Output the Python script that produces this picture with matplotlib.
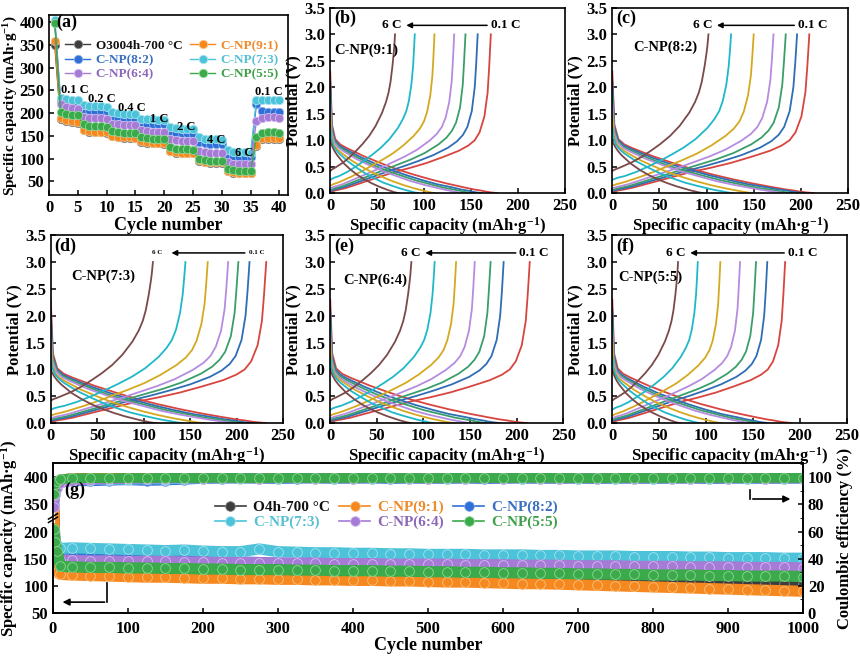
import numpy as np
import matplotlib
matplotlib.use('Agg')
import matplotlib.pyplot as plt
from matplotlib.lines import Line2D
from matplotlib.ticker import MultipleLocator, FormatStrFormatter

plt.rcParams['font.family'] = ['Liberation Serif', 'DejaVu Serif']
plt.rcParams['font.weight'] = 'bold'
plt.rcParams['axes.labelweight'] = 'bold'
plt.rcParams['mathtext.fontset'] = 'custom'
plt.rcParams['mathtext.rm'] = 'Liberation Serif:bold'
plt.rcParams['mathtext.it'] = 'Liberation Serif:bold:italic'
plt.rcParams['mathtext.bf'] = 'Liberation Serif:bold'
plt.rcParams['xtick.direction'] = 'in'
plt.rcParams['ytick.direction'] = 'in'
plt.rcParams['axes.linewidth'] = 1.2
plt.rcParams['xtick.major.width'] = 1.1
plt.rcParams['ytick.major.width'] = 1.1
plt.rcParams['xtick.labelsize'] = 12
plt.rcParams['ytick.labelsize'] = 12

CAP_LABEL = 'Specific capacity (mAh·g$^{-1}$)'

# ---------------- (a) rate capability ----------------
cycles_a = list(range(1, 41))
rate_o3004 = [350, 188, 182, 180, 179, 162, 159, 158, 158, 157, 149, 147, 146, 146, 145,
              137, 135, 134, 134, 133, 116, 113, 112, 112, 112, 95, 92, 91, 91, 91,
              72, 69, 68, 68, 68, 128, 143, 144, 144, 144]
rate_91 = [358, 190, 184, 182, 181, 163, 160, 159, 159, 158, 150, 148, 147, 147, 146,
           138, 136, 135, 135, 135, 117, 114, 113, 113, 113, 96, 93, 92, 92, 92,
           73, 70, 69, 69, 69, 130, 145, 146, 146, 146]
rate_82 = [400, 225, 220, 218, 217, 208, 206, 205, 205, 204, 192, 190, 189, 189, 188,
           178, 176, 175, 175, 175, 160, 157, 156, 156, 155, 137, 134, 133, 133, 132,
           108, 105, 104, 104, 103, 220, 205, 203, 202, 202]
rate_73 = [405, 233, 230, 229, 228, 218, 216, 215, 215, 214, 202, 200, 199, 199, 198,
           188, 186, 186, 185, 185, 170, 167, 166, 166, 165, 147, 144, 143, 143, 142,
           118, 115, 114, 114, 113, 228, 229, 229, 228, 228]
rate_64 = [398, 220, 213, 211, 210, 192, 190, 189, 189, 188, 177, 175, 174, 174, 173,
           162, 160, 159, 159, 158, 143, 140, 139, 139, 138, 117, 114, 113, 113, 112,
           92, 89, 88, 88, 88, 183, 190, 191, 191, 190]
rate_55 = [398, 203, 198, 196, 195, 175, 172, 171, 171, 170, 160, 158, 157, 157, 156,
           147, 145, 144, 144, 143, 125, 122, 121, 121, 120, 100, 96, 95, 95, 95,
           78, 75, 74, 74, 74, 147, 157, 158, 158, 157]
rate_text = ['0.1 C', '0.2 C', '0.4 C', '1 C', '2 C', '4 C', '6 C', '0.1 C']
rate_text_x = [2.0, 6.7, 12.0, 17.6, 22.2, 27.4, 32.2, 35.8]
rate_text_y = [251, 231, 212, 186, 169, 142, 112, 246]

# ---------------- (b)-(f) charge/discharge ----------------
rate_names = ['0.1 C', '0.2 C', '0.4 C', '1 C', '2 C', '4 C', '6 C']
rate_colors = ['#d8453f', '#2f6db5', '#3a9e6a', '#b58ce0', '#d4a920', '#1fb8c8', '#7a4a4a']
frac = [0, 0.01, 0.03, 0.06, 0.1, 0.2, 0.3, 0.4, 0.5, 0.6, 0.7, 0.8, 0.86, 0.9, 0.93,
        0.96, 0.98, 0.99, 1.0]
chg_v = [
    [0.02, 0.03, 0.05, 0.07, 0.10, 0.20, 0.30, 0.40, 0.48, 0.57, 0.68, 0.80, 0.90, 1.00, 1.15, 1.45, 1.90, 2.40, 3.00],
    [0.04, 0.05, 0.07, 0.09, 0.12, 0.22, 0.32, 0.42, 0.51, 0.61, 0.72, 0.86, 0.98, 1.10, 1.25, 1.55, 2.00, 2.45, 3.00],
    [0.06, 0.07, 0.09, 0.11, 0.14, 0.24, 0.34, 0.44, 0.54, 0.64, 0.76, 0.92, 1.05, 1.18, 1.33, 1.62, 2.05, 2.50, 3.00],
    [0.09, 0.10, 0.12, 0.14, 0.17, 0.27, 0.37, 0.47, 0.58, 0.69, 0.82, 0.99, 1.12, 1.25, 1.42, 1.72, 2.12, 2.52, 3.00],
    [0.14, 0.15, 0.17, 0.19, 0.22, 0.31, 0.41, 0.52, 0.63, 0.75, 0.90, 1.08, 1.22, 1.36, 1.54, 1.85, 2.22, 2.58, 3.00],
    [0.25, 0.26, 0.28, 0.30, 0.32, 0.40, 0.50, 0.61, 0.73, 0.86, 1.02, 1.23, 1.40, 1.55, 1.74, 2.05, 2.40, 2.68, 3.00],
    [0.42, 0.43, 0.45, 0.47, 0.50, 0.58, 0.68, 0.80, 0.93, 1.08, 1.27, 1.52, 1.72, 1.90, 2.10, 2.40, 2.65, 2.80, 3.00],
]
dis_v = [
    [2.30, 1.30, 1.02, 0.92, 0.85, 0.70, 0.57, 0.45, 0.35, 0.26, 0.18, 0.11, 0.07, 0.05, 0.03, 0.015, 0.008, 0.004, 0],
    [2.10, 1.25, 1.00, 0.90, 0.83, 0.68, 0.55, 0.44, 0.34, 0.25, 0.17, 0.11, 0.07, 0.05, 0.03, 0.015, 0.008, 0.004, 0],
    [1.90, 1.20, 0.98, 0.88, 0.81, 0.66, 0.53, 0.42, 0.33, 0.24, 0.17, 0.10, 0.07, 0.05, 0.03, 0.015, 0.008, 0.004, 0],
    [1.70, 1.15, 0.96, 0.86, 0.79, 0.64, 0.52, 0.41, 0.32, 0.23, 0.16, 0.10, 0.065, 0.045, 0.03, 0.015, 0.008, 0.004, 0],
    [1.50, 1.10, 0.93, 0.84, 0.77, 0.62, 0.50, 0.39, 0.30, 0.22, 0.15, 0.09, 0.06, 0.04, 0.025, 0.012, 0.006, 0.003, 0],
    [1.25, 1.05, 0.92, 0.83, 0.75, 0.60, 0.48, 0.37, 0.28, 0.20, 0.14, 0.085, 0.055, 0.04, 0.025, 0.012, 0.006, 0.003, 0],
    [1.00, 0.95, 0.88, 0.80, 0.72, 0.56, 0.44, 0.34, 0.26, 0.19, 0.13, 0.08, 0.05, 0.035, 0.02, 0.01, 0.005, 0.002, 0],
]
# end capacities (mAh/g) per rate, 0.1 C -> 6 C
chg_b = [171, 157, 144, 132, 111, 90, 69]
dis_b = [178, 162, 152, 142, 112, 94, 73]
chg_c = [209, 196, 184, 171, 150, 126, 102]
dis_c = [214, 205, 193, 183, 150, 128, 97]
chg_d = [232, 214, 202, 191, 169, 145, 110]
dis_d = [232, 218, 208, 198, 165, 142, 113]
chg_e = [214, 186, 172, 155, 135, 112, 87]
dis_e = [211, 182, 168, 150, 133, 111, 87]
chg_f = [184, 165, 153, 136, 115, 91, 70]
dis_f = [191, 166, 157, 147, 116, 93, 72]

# ---------------- (g) long cycling ----------------
cycles_g = [1, 3, 5, 10, 25, 50, 75, 100, 125, 150, 175, 200, 225, 250, 275, 300, 325, 350,
            375, 400, 425, 450, 475, 500, 525, 550, 575, 600, 625, 650, 675, 700, 725, 750,
            775, 800, 825, 850, 875, 900, 925, 950, 975, 1000]
cap_o4h = [345, 160, 135, 127,
           127, 126, 125, 124, 124, 123, 122, 122, 121, 120,
           119, 119, 118, 117, 117, 116, 116, 115, 114, 114,
           113, 113, 112, 112, 111, 111, 110, 110, 109, 108,
           108, 107, 107, 106, 105, 105, 104, 104, 103, 103]
cap_91 = [350, 140, 125, 121,
          120, 119, 118, 117, 116, 116, 115, 114, 114, 113,
          113, 112, 112, 111, 111, 110, 110, 109, 109, 108,
          107, 107, 106, 105, 104, 104, 103, 102, 101, 100,
          99, 98, 97, 96, 95, 94, 93, 92, 91, 90]
cap_82 = [175, 165, 158, 156,
          155, 154, 153, 152, 151, 150, 148, 145, 144, 144,
          143, 142, 141, 141, 140, 140, 140, 139, 139, 139,
          139, 138, 138, 138, 137, 137, 137, 136, 136, 136,
          135, 135, 135, 134, 134, 134, 133, 133, 133, 132]
cap_73 = [200, 185, 172, 169,
          170, 169, 168, 167, 166, 165, 166, 164, 163, 163,
          168, 163, 162, 161, 161, 160, 160, 159, 159, 158,
          158, 158, 157, 157, 157, 156, 156, 155, 155, 155,
          154, 154, 154, 153, 153, 152, 152, 152, 151, 151]
cap_64 = [195, 170, 152, 148,
          147, 146, 146, 145, 145, 145, 144, 144, 143, 143,
          143, 142, 142, 142, 141, 141, 141, 140, 140, 140,
          140, 139, 139, 139, 138, 138, 138, 137, 137, 137,
          136, 136, 136, 135, 135, 135, 134, 134, 134, 133]
cap_55 = [212, 180, 165, 136,
          135, 134, 134, 133, 133, 132, 132, 131, 131, 130,
          130, 130, 129, 129, 128, 128, 128, 127, 127, 126,
          126, 125, 125, 124, 124, 123, 123, 122, 122, 121,
          121, 120, 120, 120, 119, 119, 118, 118, 118, 117]
ce_o4h = [84, 93, 96, 98.4,
          99.3, 99.5, 99.4, 99.6, 99.5, 99.4, 99.5, 99.6, 99.4, 99.5,
          99.5, 99.4, 99.6, 99.5, 99.3, 99.5, 99.6, 99.4, 99.5, 99.5,
          99.6, 99.4, 99.5, 99.3, 99.5, 99.6, 99.5, 99.4, 99.5, 99.6,
          99.5, 99.4, 99.3, 99.5, 99.6, 99.5, 99.4, 99.5, 99.6, 99.5]
ce_91 = [85, 93, 96, 98.5,
         99.4, 99.5, 99.6, 99.4, 99.5, 99.5, 99.3, 99.5, 99.6, 99.4,
         99.5, 99.6, 99.5, 99.4, 99.5, 99.3, 99.5, 99.6, 99.5, 99.4,
         99.5, 99.6, 99.4, 99.5, 99.5, 99.3, 99.6, 99.5, 99.4, 99.5,
         99.6, 99.5, 99.4, 99.5, 99.3, 99.5, 99.6, 99.4, 99.5, 99.5]
ce_82 = [80, 88, 93, 96,
         97.2, 97.0, 97.5, 97.8, 97.3, 97.6, 98.2, 98.8, 99.0, 99.2,
         99.1, 98.6, 99.0, 99.2, 98.8, 99.0, 99.1, 98.7, 99.0, 98.9,
         98.8, 99.0, 98.6, 98.9, 99.1, 98.8, 98.9, 99.0, 98.7, 98.9,
         99.0, 98.8, 98.9, 99.1, 98.6, 98.9, 99.0, 98.8, 98.9, 99.0]
ce_73 = [82, 90, 94, 97,
         97.5, 97.8, 98.2, 98.0, 98.5, 98.3, 98.8, 99.0, 99.3, 99.0,
         99.2, 99.0, 99.3, 99.1, 99.0, 99.2, 99.1, 99.3, 99.0, 99.2,
         99.1, 99.0, 99.2, 99.3, 99.1, 99.0, 99.2, 99.1, 99.3, 99.0,
         99.2, 99.1, 99.0, 99.2, 99.1, 99.3, 99.0, 99.2, 99.1, 99.2]
ce_64 = [78, 87, 92, 95.5,
         97.5, 98.0, 98.6, 98.8, 99.0, 99.1, 99.2, 99.1, 99.3, 99.2,
         99.0, 99.2, 99.3, 99.1, 99.2, 99.0, 99.2, 99.3, 99.1, 99.0,
         99.2, 99.1, 99.3, 99.0, 99.2, 99.1, 99.0, 99.2, 99.1, 99.3,
         99.0, 99.2, 99.1, 99.0, 99.2, 99.1, 99.3, 99.0, 99.2, 99.1]
ce_55 = [88, 95, 97, 98.5,
         99.2, 99.4, 99.3, 99.5, 99.4, 99.6, 99.5, 99.4, 99.6, 99.5,
         99.3, 99.5, 99.6, 99.4, 99.5, 99.5, 99.6, 99.4, 99.5, 99.3,
         99.5, 99.6, 99.5, 99.4, 99.5, 99.6, 99.5, 99.4, 99.3, 99.5,
         99.6, 99.5, 99.4, 99.5, 99.6, 99.5, 99.4, 99.5, 99.6, 99.5]

# series styles: (face, edge, legend text colour)
C_BLK = ('#3d3d3d', '#8a8a8a', '#111111')
C_ORG = ('#f5891f', '#fbc27e', '#ee8a2a')
C_BLU = ('#2f6fd6', '#86aef0', '#3a6fc0')
C_CYN = ('#4cc3d9', '#a4e3ee', '#57c0d4')
C_PUR = ('#a57bd6', '#d4bdf0', '#8a67b8')
C_GRN = ('#3aaa4a', '#92d69a', '#3f9f4a')

fig = plt.figure(figsize=(8.6, 6.57), dpi=100)

# ---- (a)
ax = fig.add_axes([0.057, 0.703, 0.278, 0.274])
series_a = [('O3004h-700 °C', rate_o3004, C_BLK), ('C-NP(9:1)', rate_91, C_ORG),
            ('C-NP(8:2)', rate_82, C_BLU), ('C-NP(7:3)', rate_73, C_CYN),
            ('C-NP(6:4)', rate_64, C_PUR), ('C-NP(5:5)', rate_55, C_GRN)]
handles = {}
for name, vals, st in series_a:
    h, = ax.plot(cycles_a, vals, '-o', color=st[0], mec=st[1], mew=0.6, ms=6, lw=1.0, label=name)
    handles[name] = (h, st[2])
order = ['O3004h-700 °C', 'C-NP(8:2)', 'C-NP(6:4)', 'C-NP(9:1)', 'C-NP(7:3)', 'C-NP(5:5)']
leg = ax.legend([handles[n][0] for n in order], order, ncol=2, frameon=False, loc='center',
                bbox_to_anchor=(0.515, 0.75), fontsize=9.5, handlelength=1.9, handletextpad=0.4,
                columnspacing=0.6, labelspacing=0.15, borderpad=0.1)
for t, n in zip(leg.get_texts(), order):
    t.set_color(handles[n][1])
for s, x, y in zip(rate_text, rate_text_x, rate_text_y):
    ax.text(x, y, s, fontsize=9, ha='left', va='center')
ax.text(1.3, 400, '(a)', fontsize=13, va='center')
ax.set_xlim(0, 41.5)
ax.set_ylim(20, 415)
ax.set_xticks(range(0, 41, 5))
ax.set_yticks(range(50, 401, 50))
ax.set_xlabel('Cycle number', fontsize=13, labelpad=1)
ax.set_ylabel(CAP_LABEL, fontsize=11)
ax.yaxis.set_label_coords(-0.12, 0.5)


def gcd(rect, chg, dis, tag, sample, sample_xy, six_x, arrow_x0, arrow_x1, small=False):
    a = fig.add_axes(rect)
    for i in range(7):
        a.plot(np.array(frac) * dis[i], dis_v[i], color=rate_colors[i], lw=1.3)
        a.plot(np.array(frac) * chg[i], chg_v[i], color=rate_colors[i], lw=1.3)
    a.set_xlim(0, 250)
    a.set_ylim(0, 3.5)
    a.set_xticks(range(0, 251, 50))
    a.set_yticks(np.arange(0, 3.51, 0.5))
    a.yaxis.set_major_formatter(FormatStrFormatter('%.1f'))
    a.set_xlabel(CAP_LABEL, fontsize=12, labelpad=1)
    a.set_ylabel('Potential (V)', fontsize=12, labelpad=2)
    a.text(4, 3.3, tag, fontsize=13, va='center')
    a.text(sample_xy[0], sample_xy[1], sample, fontsize=10.5, va='center')
    fs = 5 if small else 9.5
    a.text(six_x, 3.17, '6 C', fontsize=fs, ha='right', va='center')
    a.text(arrow_x0 + 1, 3.17, '0.1 C', fontsize=fs, ha='left', va='center')
    a.annotate('', xy=(arrow_x1, 3.17), xytext=(arrow_x0, 3.17),
               arrowprops=dict(arrowstyle='-|>', color='k', lw=1.1, mutation_scale=8))
    return a


gcd([0.384, 0.706, 0.273, 0.282], chg_b, dis_b, '(b)', 'C-NP(9:1)', (4, 2.7), 76, 170, 78)
gcd([0.712, 0.706, 0.274, 0.282], chg_c, dis_c, '(c)', 'C-NP(8:2)', (22, 2.75), 106, 196, 108)
gcd([0.059, 0.356, 0.270, 0.286], chg_d, dis_d, '(d)', 'C-NP(7:3)', (22, 2.74), 120, 212, 127, small=True)
gcd([0.384, 0.356, 0.271, 0.286], chg_e, dis_e, '(e)', 'C-NP(6:4)', (14, 2.66), 97, 202, 99)
gcd([0.712, 0.356, 0.273, 0.286], chg_f, dis_f, '(f)', 'C-NP(5:5)', (6, 2.72), 78, 186, 80)

# ---- (g) broken left axis through a function scale
def fwd(v):
    v = np.asarray(v, dtype=float)
    return np.where(v <= 200, v, np.where(v >= 350, v - 100, 200 + (v - 200) / 3))


def inv(t):
    t = np.asarray(t, dtype=float)
    return np.where(t <= 200, t, np.where(t >= 250, t + 100, 200 + (t - 200) * 3))


axg = fig.add_axes([0.0616, 0.067, 0.872, 0.228])
axg.set_yscale('function', functions=(fwd, inv))
axr = axg.twinx()
series_g = [('O4h-700 °C', cap_o4h, ce_o4h, C_BLK), ('C-NP(9:1)', cap_91, ce_91, C_ORG),
            ('C-NP(8:2)', cap_82, ce_82, C_BLU), ('C-NP(7:3)', cap_73, ce_73, C_CYN),
            ('C-NP(6:4)', cap_64, ce_64, C_PUR), ('C-NP(5:5)', cap_55, ce_55, C_GRN)]
hg = {}
for name, cap, ce, st in series_g:
    axg.plot(cycles_g, cap, '-o', color=st[0], mec=st[1], mew=0.6, ms=7, lw=8,
             solid_capstyle='round')
    axr.plot(cycles_g, ce, '-o', color=st[0], mec=st[1], mew=0.6, ms=7, lw=7,
             solid_capstyle='round')
    hg[name] = (Line2D([], [], color=st[0], marker='o', mec=st[1], mew=0.6, ms=7, lw=1.2), st[2])
order_g = ['O4h-700 °C', 'C-NP(7:3)', 'C-NP(9:1)', 'C-NP(6:4)', 'C-NP(8:2)', 'C-NP(5:5)']
legg = axg.legend([hg[n][0] for n in order_g], order_g, ncol=3, frameon=False, loc='center',
                  bbox_to_anchor=(0.445, 0.655), fontsize=11, handlelength=2.0,
                  handletextpad=0.5, columnspacing=0.6, labelspacing=0.1)
for t, n in zip(legg.get_texts(), order_g):
    t.set_color(hg[n][1])
axg.set_xlim(0, 1000)
axg.set_ylim(50, 426)
axg.set_yticks([50, 100, 150, 200, 350, 400])
axg.set_yticklabels(['50', '100', '150', '200', '350', '400'])
axg.minorticks_off()
axg.set_xticks(range(0, 1001, 100))
axg.tick_params(axis='x', pad=6)
axg.set_xlabel('Cycle number', fontsize=13, labelpad=0)
axg.set_ylabel(CAP_LABEL, fontsize=12, labelpad=2)
axr.set_ylim(0, 110.4)
axr.set_yticks(range(0, 101, 20))
axr.yaxis.set_minor_locator(MultipleLocator(10))
axr.tick_params(axis='y', which='minor', direction='in', length=2.5)
axr.set_ylabel('Coulombic efficiency (%)', fontsize=12, labelpad=3)
axr.text(15, 90.5, '(g)', fontsize=13, va='center', zorder=20)

# arrows pointing at the axes
axg.plot([72, 72], [105, 70], color='k', lw=1.2)
axg.annotate('', xy=(9, 70), xytext=(72.5, 70),
             arrowprops=dict(arrowstyle='-|>', color='k', lw=1.2, mutation_scale=10))
axr.plot([930, 930], [91, 84], color='k', lw=1.2)
axr.annotate('', xy=(987, 84), xytext=(929.5, 84),
             arrowprops=dict(arrowstyle='-|>', color='k', lw=1.2, mutation_scale=10))

# axis break marks on the left spine
axg.plot([0, 0], [0.612, 0.655], color='white', lw=3, transform=axg.transAxes,
         clip_on=False, zorder=10)
for yc in (0.622, 0.645):
    axg.plot([-0.006, 0.006], [yc - 0.018, yc + 0.018], color='k', lw=1.1,
             transform=axg.transAxes, clip_on=False, zorder=11)

fig.savefig('out.png', dpi=100)
